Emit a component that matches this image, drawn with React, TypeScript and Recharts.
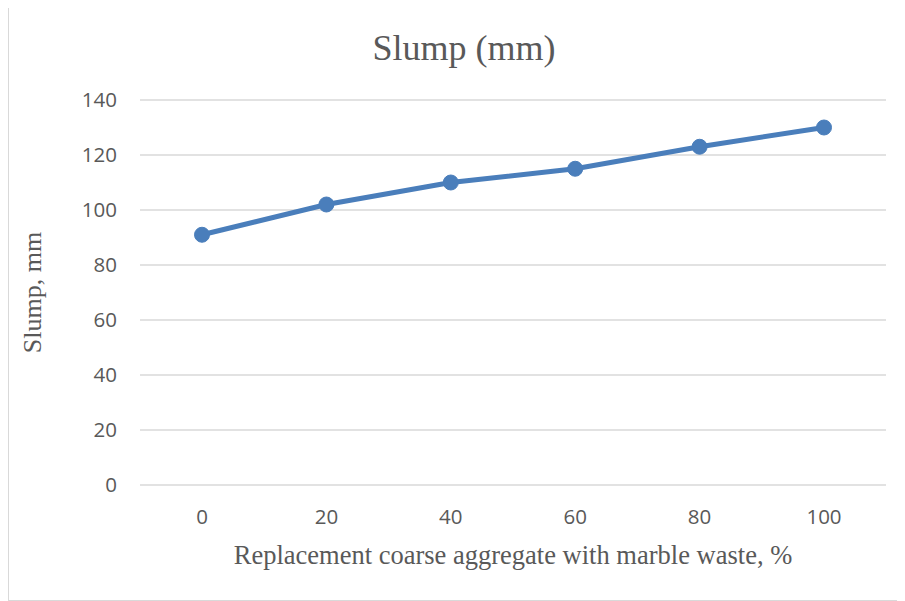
import React from 'react';
import { LineChart, Line, XAxis, YAxis, CartesianGrid } from 'recharts';

const categories = ['0', '20', '40', '60', '80', '100'];
const slumpValues = [91, 102, 110, 115, 123, 130];
const yTicks = [0, 20, 40, 60, 80, 100, 120, 140];

const data = categories.map((c, i) => ({ x: c, slump: slumpValues[i] }));

const TEXT = '#595959';
const SERIF = '"Liberation Serif", "Times New Roman", serif';
const SANS = '"Open Sans", Lato, sans-serif';

const YLabel = (props: any) => {
  const vb = props.viewBox || {};
  const cx = 23;
  const cy = vb.y + vb.height / 2;
  return (
    <text x={cx} y={cy} transform={`rotate(-90 ${cx} ${cy})`} textAnchor="middle" dominantBaseline="central"
      fill={TEXT} style={{ fontFamily: SERIF, fontSize: 26 }}>Slump, mm</text>
  );
};

const XLabel = (props: any) => {
  const vb = props.viewBox || {};
  const cx = vb.x + vb.width / 2;
  const cy = vb.y + 70;
  return (
    <text x={cx} y={cy} textAnchor="middle" dominantBaseline="central"
      fill={TEXT} style={{ fontFamily: SERIF, fontSize: 26.5 }}>Replacement coarse aggregate with marble waste, %</text>
  );
};

export default function App() {
  return (
    <div style={{ position: 'relative', width: 898, height: 595, border: '1px solid #d9d9d9', marginTop: -4, background: '#fff' }}>
      <div style={{ position: 'absolute', left: 0, top: 25, width: 910, textAlign: 'center', fontFamily: SERIF, fontSize: 36, lineHeight: '36px', color: TEXT }}>
        Slump (mm)
      </div>
      <LineChart width={898} height={595} data={data} margin={{ top: 95, right: 21, left: 0, bottom: 0 }}>
        <CartesianGrid vertical={false} stroke="#d9d9d9" strokeWidth={1.3} />
        <XAxis dataKey="x" height={115} padding={{ left: 62, right: 62 }} axisLine={false} tickLine={false}
          tickSize={0} tickMargin={24} tick={{ fill: TEXT, fontSize: 20.5, fontFamily: SANS }} label={<XLabel />} />
        <YAxis width={131} domain={[0, 140]} ticks={yTicks} axisLine={false} tickLine={false} tickSize={0} tickMargin={23}
          tick={{ fill: TEXT, fontSize: 20.5, fontFamily: SANS }} label={<YLabel />} />
        <Line type="linear" dataKey="slump" stroke="#4a7ebb" strokeWidth={5} isAnimationActive={false}
          dot={{ r: 7.5, fill: '#4a7ebb', stroke: '#4a7ebb', strokeWidth: 1 }} />
      </LineChart>
    </div>
  );
}
